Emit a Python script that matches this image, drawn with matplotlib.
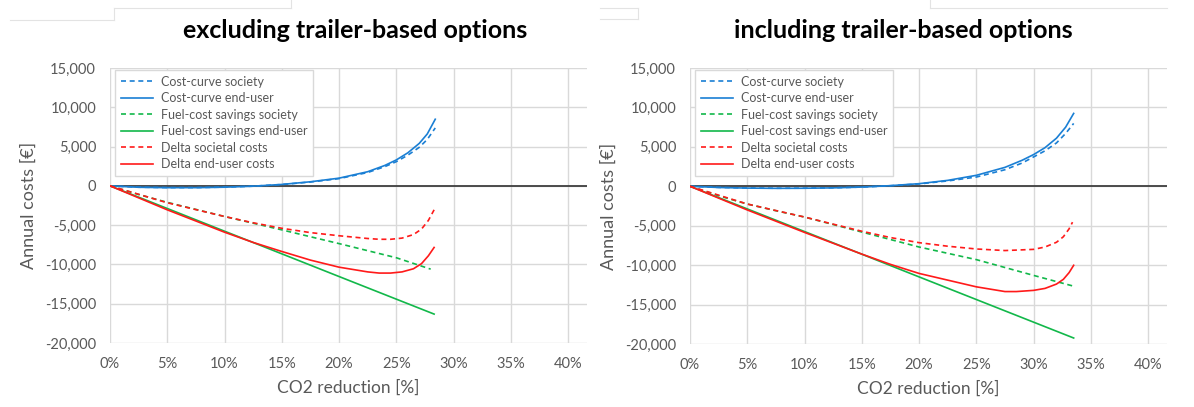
import matplotlib
matplotlib.use("Agg")
import matplotlib.pyplot as plt
from matplotlib.ticker import FuncFormatter, MultipleLocator
from matplotlib.lines import Line2D

# ---------------- data (x in % CO2 reduction, y in EUR/year) ----------------
# Left: excluding trailer-based options
xL_cc = [0, 2.5, 5, 7.5, 10, 12.5, 15, 17.5, 20, 22.5, 24, 25, 26, 27, 27.7, 28.4]
ccEndL = [0, -180, -230, -230, -170, -40, 180, 520, 980, 1800, 2600, 3300, 4200, 5400, 6600, 8480]
ccSocL = [0, -170, -220, -220, -160, -40, 170, 490, 920, 1700, 2450, 3080, 3900, 4900, 5900, 7370]
xL_fe = [0, 5, 10, 15, 20, 25, 28.3]
fcEndL = [0, -2880, -5770, -8650, -11540, -14420, -16320]
xL_fs = [0, 2.5, 5, 7.5, 10, 15, 20, 25, 28.0]
fcSocL = [0, -1100, -2100, -3000, -3900, -5600, -7350, -9150, -10600]
xL_d = [0, 5, 10, 12.5, 15, 17.5, 20, 22.5, 23.5, 24.5, 25.5, 26.5, 27.2, 27.8, 28.3]
dEndL = [0, -3050, -5900, -7200, -8350, -9450, -10350, -10950, -11100, -11100, -10950, -10550, -9900, -8900, -7840]
dSocL = [0, -2150, -3900, -4700, -5400, -5950, -6350, -6700, -6800, -6800, -6650, -6200, -5500, -4400, -3050]

# Right: including trailer-based options
xR_cc = [0, 2.5, 5, 7.5, 10, 12.5, 15, 17.5, 20, 22.5, 25, 27.5, 29, 30, 31, 32, 32.8, 33.5]
ccEndR = [0, -150, -230, -260, -250, -200, -100, 80, 330, 750, 1390, 2400, 3300, 4020, 4900, 6100, 7500, 9240]
ccSocR = [0, -140, -220, -250, -240, -190, -100, 70, 300, 680, 1170, 2100, 2950, 3720, 4500, 5500, 6700, 7970]
xR_fe = [0, 5, 10, 15, 20, 25, 30, 33.5]
fcEndR = [0, -2870, -5740, -8610, -11490, -14360, -17230, -19240]
xR_fs = [0, 2.5, 5, 7.5, 10, 15, 20, 25, 30, 33.4]
fcSocR = [0, -1200, -2250, -3100, -3900, -5800, -7700, -9300, -11300, -12630]
xR_ds = [0, 5, 10, 15, 17.5, 20, 22.5, 25, 27.5, 30, 31, 32, 32.6, 33.1, 33.4]
dSocR = [0, -2250, -3900, -5700, -6500, -7150, -7600, -7950, -8150, -8000, -7700, -7100, -6400, -5400, -4550]
xR_de = [0, 5, 10, 15, 17.5, 20, 22.5, 25, 27.5, 28.5, 30, 31, 32, 32.6, 33.1, 33.5]
dEndR = [0, -3000, -5850, -8600, -9900, -11050, -11900, -12750, -13350, -13350, -13200, -12950, -12400, -11800, -10950, -10020]

titles = ["excluding trailer-based options", "including trailer-based options"]
labels = ["Cost-curve society", "Cost-curve end-user", "Fuel-cost savings society",
          "Fuel-cost savings end-user", "Delta societal costs", "Delta end-user costs"]
ylabel = "Annual costs [\u20ac]"
xlabel = "CO2 reduction [%]"

BLUE = "#1a7fd4"
GREEN = "#12b84a"
RED = "#ff1a1a"
GRAY = "#595959"
GRID = "#d9d9d9"

plt.rcParams['font.family'] = ['Lato', 'DejaVu Sans']

fig = plt.figure(figsize=(11.94, 4.07), dpi=100)
W, H = 1194, 407

def add_ax(x0, y_top, x1, y_bot):
    return fig.add_axes([x0 / W, 1 - y_bot / H, (x1 - x0) / W, (y_bot - y_top) / H])

axL = add_ax(110, 68, 587, 343)
axR = add_ax(690, 68, 1167, 344)

DASH = (0, (3, 2.2))
panels = [
    (axL, [(xL_cc, ccSocL, BLUE, '--'), (xL_cc, ccEndL, BLUE, '-'),
           (xL_fs, fcSocL, GREEN, '--'), (xL_fe, fcEndL, GREEN, '-'),
           (xL_d, dSocL, RED, '--'), (xL_d, dEndL, RED, '-')]),
    (axR, [(xR_cc, ccSocR, BLUE, '--'), (xR_cc, ccEndR, BLUE, '-'),
           (xR_fs, fcSocR, GREEN, '--'), (xR_fe, fcEndR, GREEN, '-'),
           (xR_ds, dSocR, RED, '--'), (xR_de, dEndR, RED, '-')]),
]

for ax, series in panels:
    ax.set_xlim(0, 41.65)
    ax.set_ylim(-20000, 15000)
    ax.xaxis.set_major_locator(MultipleLocator(5))
    ax.yaxis.set_major_locator(MultipleLocator(5000))
    ax.xaxis.set_major_formatter(FuncFormatter(lambda v, p: f"{v:.0f}%"))
    ax.yaxis.set_major_formatter(FuncFormatter(lambda v, p: f"{v:,.0f}"))
    ax.grid(True, color=GRID, lw=1.0)
    ax.set_axisbelow(True)
    for s in ax.spines.values():
        s.set_visible(False)
    ax.tick_params(length=0, labelsize=10.5, labelcolor=GRAY, pad=10)
    ax.axhline(0, color="#3f3f3f", lw=1.3, zorder=1.5)
    handles = []
    for (xs, ys, c, ls), lab in zip(series, labels):
        style = DASH if ls == '--' else '-'
        ax.plot(xs, ys, color=c, lw=1.2, ls=style, zorder=3)
        handles.append(Line2D([], [], color=c, lw=1.2, ls=style))
    leg = ax.legend(handles, labels, loc='upper left', bbox_to_anchor=(0.0105, 0.993),
                    borderaxespad=0, fontsize=9, handlelength=2.6, handletextpad=0.6,
                    labelspacing=0.36, frameon=True, fancybox=False, framealpha=1,
                    edgecolor=GRID, borderpad=0.45)
    leg.get_frame().set_linewidth(1.0)
    for t in leg.get_texts():
        t.set_color(GRAY)
    ax.set_ylabel(ylabel, fontsize=13, color=GRAY, labelpad=6)
    ax.set_xlabel(xlabel, fontsize=12.5, color=GRAY, labelpad=6)

fig.text(355 / W, 1 - 31 / H, titles[0], ha='center', va='center',
         fontsize=18, fontweight='bold', color='black')
fig.text(903 / W, 1 - 31 / H, titles[1], ha='center', va='center',
         fontsize=18, fontweight='bold', color='black')

# faint screenshot frame artifacts at top
def fline(xs, ys):
    fig.add_artist(Line2D([x / W for x in xs], [1 - y / H for y in ys],
                          color="#e3e3e3", lw=0.8))
fline([10, 114], [20, 20]); fline([114, 114], [8, 20])
fline([114, 291], [8, 8]); fline([291, 291], [0, 8])
fline([600, 638], [8, 8]); fline([600, 638], [19, 19]); fline([638, 638], [8, 19])
fline([930, 1167], [8, 8]); fline([930, 930], [0, 8])

fig.savefig("out.png", dpi=100)
